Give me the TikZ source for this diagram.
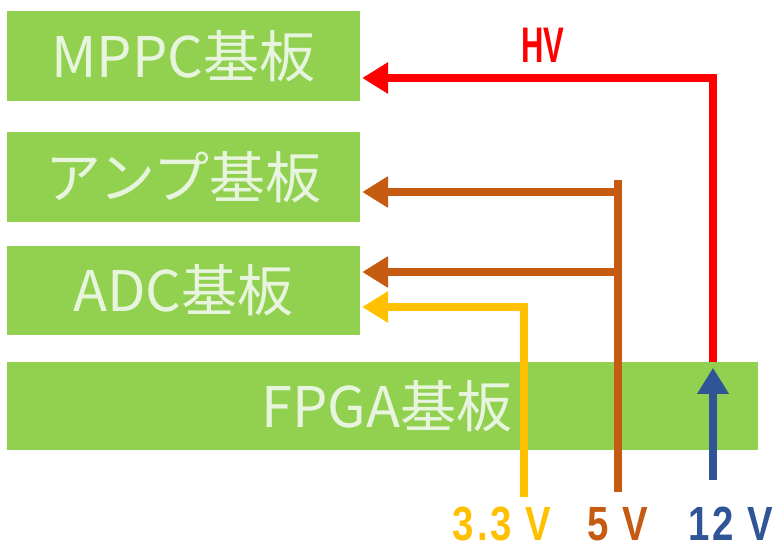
\documentclass[tikz,border=0pt]{standalone}
\usepackage{fontspec}
\usetikzlibrary{arrows.meta}
\newfontfamily\jpfont{Noto Sans CJK JP}
\newfontfamily\labfont[FakeStretch=0.8,LetterSpace=6]{Liberation Sans}
\newfontfamily\hvfont[FakeStretch=0.62]{Liberation Sans}
\definecolor{boardgreen}{RGB}{146,208,80}
\definecolor{boardtext}{RGB}{232,245,222}
\definecolor{hvred}{RGB}{255,0,0}
\definecolor{vbrown}{RGB}{197,90,17}
\definecolor{vyellow}{RGB}{255,192,0}
\definecolor{vblue}{RGB}{47,85,151}
\tikzset{
  board/.style={fill=boardgreen, draw=none, inner sep=0pt, text=boardtext,
    font=\jpfont\fontsize{56}{60}\selectfont},
  wire/.style={line width=8pt},
  tipped/.style={wire, -{Triangle[length=26pt,width=30pt]}},
  vlabel/.style={inner sep=0pt, text depth=0pt, font=\labfont\bfseries\fontsize{48}{52}\selectfont}
}
\begin{document}
\begin{tikzpicture}[x=1pt,y=-1pt]
\useasboundingbox (0,0) rectangle (775,550);
% boards
\node[board, minimum width=353pt, minimum height=90pt] (mppc) at (183.5,56) {MPPC基板};
\node[board, minimum width=353pt, minimum height=90pt] (amp) at (183.5,177) {アンプ基板};
\node[board, minimum width=353pt, minimum height=89pt] (adc) at (183.5,290.5) {ADC基板};
\node[board, minimum width=751pt, minimum height=88pt] (fpga) at (382.5,406) {};
\node[inner sep=0pt, text=boardtext, font=\jpfont\fontsize{56}{60}\selectfont] (fpgatext) at (387,406) {FPGA基板};
% coordinates
\coordinate (v33) at (524,497);
\coordinate (v5) at (618,492);
\coordinate (v12) at (713,480);
\coordinate (b5top) at (618,180);
\coordinate (mppcin) at ([xshift=2pt,yshift=-22pt]mppc.east);
\coordinate (ampin) at ([xshift=2pt,yshift=-15pt]amp.east);
\coordinate (adcin5) at ([xshift=2pt,yshift=18.5pt]adc.east);
\coordinate (adcin33) at ([xshift=2pt,yshift=-16.5pt]adc.east);
% HV
\draw[tipped, hvred] (fpga.north -| v12) |- (mppcin);
% 5 V
\draw[wire, vbrown] (v5) -- (b5top);
\draw[tipped, vbrown] (v5 |- ampin) -- (ampin);
\draw[tipped, vbrown] (v5 |- adcin5) -- (adcin5);
% 3.3 V
\draw[tipped, vyellow] (v33) |- (adcin33);
% 12 V
\draw[tipped, vblue] (v12) -- ([yshift=-6pt]fpga.north -| v12);
% labels
\node[inner sep=0pt, text depth=0pt, text=hvred, font=\hvfont\bfseries\fontsize{50}{54}\selectfont] (hv) at (543,45) {HV};
\node[vlabel, text=vyellow, anchor=base] (l33) at (502,540) {3.3 V};
\node[vlabel, text=vbrown, anchor=base] (l5) at (618,540) {5 V};
\node[vlabel, text=vblue, anchor=base] (l12) at (731,540) {12 V};
\end{tikzpicture}
\end{document}
